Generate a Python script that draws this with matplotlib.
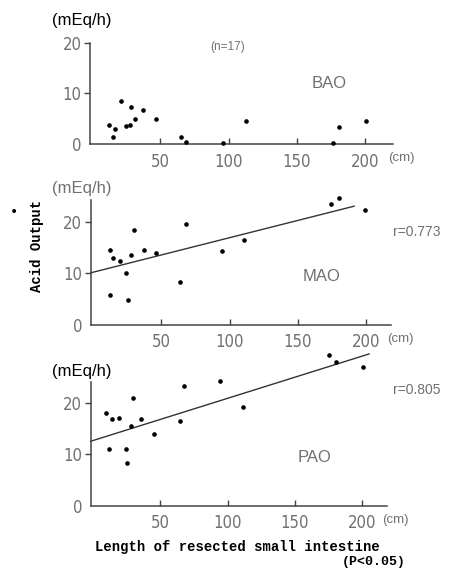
import matplotlib
matplotlib.use("Agg")
import matplotlib.pyplot as plt
import numpy as np

# ---- data ----
bao_x = [12.2, 15.4, 17.0, 21.0, 24.9, 27.6, 28.8, 31.7, 37.3, 47.0, 65.4, 68.5, 95.6, 112.7, 176.0, 181.0, 200.5]
bao_y = [3.7, 1.5, 3.0, 8.6, 3.6, 3.7, 7.3, 5.0, 6.8, 5.0, 1.5, 0.4, 0.3, 4.5, 0.3, 3.5, 4.5]

mao_x = [12.4, 15.1, 12.4, 20.2, 24.4, 25.6, 27.8, 30.5, 37.3, 45.9, 64.1, 67.8, 94.6, 110.2, 174.1, 179.8, 199.0]
mao_y = [14.5, 13.0, 5.9, 12.3, 10.0, 4.9, 13.5, 18.3, 14.6, 14.0, 8.3, 19.5, 14.3, 16.5, 23.5, 24.5, 22.3]

pao_x = [10.1, 14.0, 12.1, 19.7, 24.4, 25.4, 28.3, 29.8, 36.0, 45.6, 64.5, 68.0, 94.8, 111.8, 175.6, 180.5, 200.2]
pao_y = [18.0, 16.9, 11.1, 17.1, 11.0, 8.3, 15.6, 21.1, 16.9, 14.0, 16.6, 23.3, 24.4, 19.2, 29.5, 28.1, 27.1]

# regression lines: (intercept, slope, x_start, x_end)
mao_fit = (10.2, 0.067, -1.5, 191.0)
pao_fit = (12.7, 0.0825, -1.5, 205.0)

mao_r = "r=0.773"
pao_r = "r=0.805"

x_ticks = [50, 100, 150, 200]
y_ticks = [0, 10, 20]

# ---- styling ----
sans = ["DejaVu Sans"]
lib = ["Liberation Sans", "DejaVu Sans"]
mono = ["Liberation Mono", "DejaVu Sans Mono"]
gray = "#707070"
axcol = "#444444"

fig = plt.figure(figsize=(4.51, 5.83), dpi=100)

panels = [
    dict(x=bao_x, y=bao_y, pos=[0.1996, 0.7525, 0.671, 0.1743], ylim=(0, 20), fit=None,
         name="BAO", name_xy=(0.79, 0.60), unit_col="black", unit_dy=22),
    dict(x=mao_x, y=mao_y, pos=[0.2011, 0.4425, 0.666, 0.2145], ylim=(0, 24.2), fit=mao_fit,
         name="MAO", name_xy=(0.77, 0.39), unit_col=gray, r=mao_r, r_y=231.7, unit_dy=11),
    dict(x=pao_x, y=pao_y, pos=[0.2011, 0.1326, 0.656, 0.2127], ylim=(0, 24.2), fit=pao_fit,
         name="PAO", name_xy=(0.757, 0.39), unit_col="black", r=pao_r, r_y=390, unit_dy=10),
]

W, H = 451, 583
for p in panels:
    ax = fig.add_axes(p["pos"])
    ax.set_xlim(-1.5, 220 if p["name"] == "BAO" else 218)
    ax.set_ylim(*p["ylim"])
    for s in ["top", "right"]:
        ax.spines[s].set_visible(False)
    for s in ["left", "bottom"]:
        ax.spines[s].set_color(axcol)
        ax.spines[s].set_linewidth(1.1)
    ax.scatter(p["x"], p["y"], s=11, color="black", clip_on=False, zorder=3, linewidths=0)
    if p["fit"] is not None:
        b0, b1, xs, xe = p["fit"]
        xx = np.array([xs, xe])
        ax.plot(xx, b0 + b1 * xx, color="#333333", lw=1.0, clip_on=False)
    ax.set_xticks(x_ticks)
    ax.set_yticks(y_ticks)
    ax.tick_params(axis="x", direction="in", length=4, width=1, color=axcol, pad=6,
                   labelsize=12, labelcolor=gray)
    ax.tick_params(axis="y", direction="out", length=4, width=1, color=axcol, pad=2,
                   labelsize=12, labelcolor=gray)
    for lab in ax.get_xticklabels() + ax.get_yticklabels():
        lab.set_family(sans)
        lab.set_stretch("condensed")
    ax.yaxis.get_major_ticks()[0].tick1line.set_visible(False)
    # (cm)
    ax.annotate("(cm)", xy=(1.0, 0), xycoords="axes fraction", xytext=(-3, -10),
                textcoords="offset points", ha="left", va="center", fontsize=9.5,
                color=gray, family=lib)
    # (mEq/h)
    fig.text(82 / W, p["pos"][1] + p["pos"][3] + p["unit_dy"] / H, "(mEq/h)",
             ha="center", va="center", fontsize=12, color=p["unit_col"], family=lib)
    ax.text(p["name_xy"][0], p["name_xy"][1], p["name"], transform=ax.transAxes,
            fontsize=12, color=gray, family=lib, ha="center", va="center")
    if "r" in p:
        fig.text(417 / W, 1 - p["r_y"] / H, p["r"], fontsize=10, color=gray,
                 family=lib, ha="center", va="center")

fig.text(228 / W, 1 - 47 / H, "(n=17)", fontsize=8.5, color=gray, family=lib,
         ha="center", va="center")

fig.text(37 / W, 1 - 246 / H, "Acid Output", rotation=90, fontsize=10, fontweight="bold",
         family=mono, ha="center", va="center", color="black")
fig.text(14 / W, 1 - 212 / H, "\u2022", fontsize=10, ha="center", va="center", color="black")

fig.text(237 / W, 1 - 547 / H, "Length of resected small intestine", fontsize=10,
         fontweight="bold", family=mono, ha="center", va="center", color="black")
fig.text(374 / W, 1 - 562 / H, "(P<0.05)", fontsize=9.5, fontweight="bold", family=mono,
         ha="center", va="center", color="black")

fig.savefig("out.png", dpi=100, facecolor="white")
